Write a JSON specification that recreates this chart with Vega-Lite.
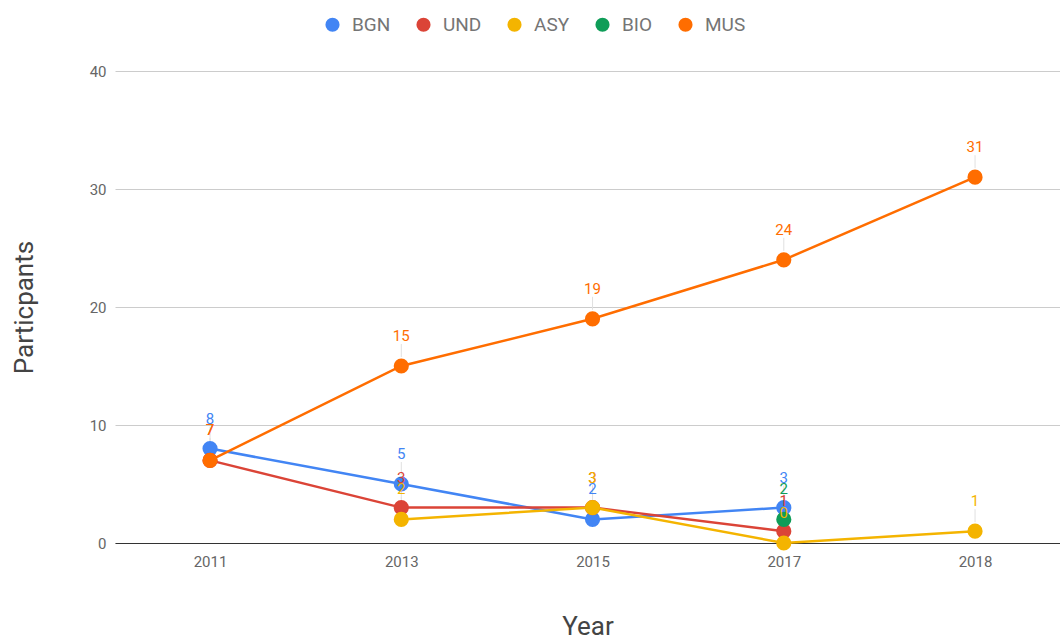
{
  "$schema": "https://vega.github.io/schema/vega-lite/v6.json",
  "autosize": "none",
  "width": 945,
  "height": 472,
  "padding": {"left": 115, "top": 71, "right": 0, "bottom": 96},
  "background": "white",
  "config": {
    "font": "Roboto",
    "view": {"stroke": null},
    "axis": {"labelFont": "Roboto", "titleFont": "Roboto"}
  },
  "data": {
    "values": [
      {"year": "2011", "series": "BGN", "participants": 8},
      {"year": "2013", "series": "BGN", "participants": 5},
      {"year": "2015", "series": "BGN", "participants": 2},
      {"year": "2017", "series": "BGN", "participants": 3},
      {"year": "2011", "series": "UND", "participants": 7},
      {"year": "2013", "series": "UND", "participants": 3},
      {"year": "2015", "series": "UND", "participants": 3},
      {"year": "2017", "series": "UND", "participants": 1},
      {"year": "2013", "series": "ASY", "participants": 2},
      {"year": "2015", "series": "ASY", "participants": 3},
      {"year": "2017", "series": "ASY", "participants": 0},
      {"year": "2018", "series": "ASY", "participants": 1},
      {"year": "2017", "series": "BIO", "participants": 2},
      {"year": "2011", "series": "MUS", "participants": 7},
      {"year": "2013", "series": "MUS", "participants": 15},
      {"year": "2015", "series": "MUS", "participants": 19},
      {"year": "2017", "series": "MUS", "participants": 24},
      {"year": "2018", "series": "MUS", "participants": 31}
    ]
  },
  "transform": [
    {"calculate": "indexof(['BGN','UND','ASY','BIO','MUS'], datum.series)", "as": "order"}
  ],
  "encoding": {
    "x": {
      "field": "year",
      "type": "ordinal",
      "scale": {"type": "point", "padding": 0.4706, "align": 0.528, "domain": ["2011", "2013", "2015", "2017", "2018"]},
      "axis": {
        "title": "Year",
        "titleFontSize": 26,
        "titleFontWeight": "normal",
        "titleColor": "#444444",
        "titlePadding": 44,
        "labelAngle": 0,
        "labelFontSize": 15,
        "labelColor": "#666666",
        "labelPadding": 11,
        "ticks": false,
        "domainColor": "#333333",
        "domainWidth": 1,
        "grid": false
      }
    },
    "y": {
      "field": "participants",
      "type": "quantitative",
      "scale": {"domain": [0, 40], "nice": false},
      "axis": {
        "title": "Particpants",
        "titleFontSize": 26,
        "titleFontWeight": "normal",
        "titleColor": "#444444",
        "titlePadding": 52,
        "values": [0, 10, 20, 30, 40],
        "labelFontSize": 15,
        "labelColor": "#666666",
        "labelPadding": 9,
        "ticks": false,
        "domain": false,
        "gridColor": "#cccccc",
        "gridWidth": 1
      }
    },
    "color": {
      "field": "series",
      "type": "nominal",
      "scale": {
        "domain": ["BGN", "UND", "ASY", "BIO", "MUS"],
        "range": ["#4285F4", "#DB4437", "#F4B400", "#0F9D58", "#FF6D00"]
      },
      "legend": {
        "title": null,
        "orient": "none",
        "legendX": 208,
        "legendY": -56,
        "direction": "horizontal",
        "symbolType": "circle",
        "symbolSize": 200,
        "symbolOpacity": 1,
        "symbolStrokeWidth": 0,
        "labelFontSize": 19,
        "labelColor": "#757575",
        "labelFont": "Roboto",
        "labelOffset": 10,
        "columnPadding": 23
      }
    },
    "order": {"field": "order"}
  },
  "layer": [
    {
      "mark": {"type": "line", "strokeWidth": 2.5},
      "encoding": {"detail": {"field": "series"}, "order": {"field": "year"}}
    },
    {
      "mark": {"type": "rule", "yOffset": -9, "y2Offset": -22, "strokeWidth": 1},
      "encoding": {
        "y2": {"field": "participants"},
        "color": {"value": "#e0e0e0"}
      }
    },
    {
      "mark": {"type": "circle", "size": 230, "opacity": 1}
    },
    {
      "mark": {"type": "text", "dy": -30, "fontSize": 15, "baseline": "middle", "align": "center"},
      "encoding": {"text": {"field": "participants", "type": "quantitative"}}
    }
  ]
}
